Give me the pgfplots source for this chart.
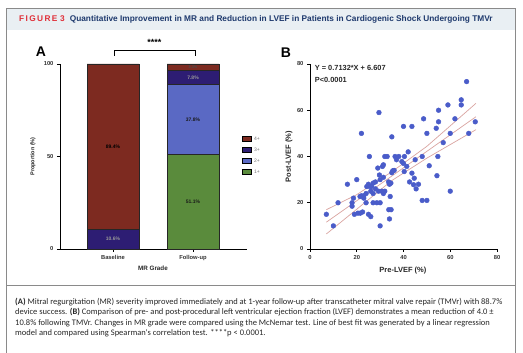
\documentclass[border=0pt]{standalone}
\usepackage{pgfplots}
\pgfplotsset{compat=1.18}
\usepackage{fontspec}
\setmainfont{Liberation Sans}
\newfontfamily\capfont{Carlito}
\definecolor{cfour}{HTML}{7D2A20}
\definecolor{cthree}{HTML}{2D1D73}
\definecolor{ctwo}{HTML}{5A69C4}
\definecolor{cone}{HTML}{5A8B3C}
\definecolor{dotblue}{HTML}{4A5CC9}
\definecolor{fitc}{HTML}{D9A3A0}
\definecolor{bandbg}{HTML}{E9EFF3}
\definecolor{figred}{HTML}{E0303A}
\definecolor{titleblue}{HTML}{1F3A6E}
\definecolor{framec}{HTML}{8A8A8A}
\pgfplotsset{
  panel/.style={
    anchor=south west, scale only axis, width=187pt, height=185pt,
    axis x line=bottom, axis y line=left,
    axis line style={-, line width=0.8pt, black},
    tick align=outside, major tick length=3pt,
    tick style={line width=0.6pt, black},
    tick label style={font=\fontsize{5.8}{6}\selectfont\bfseries, text=black!80},
    /pgf/number format/assume math mode=true,
    enlargelimits=false, clip=false,
  }
}
\begin{document}
\begin{tikzpicture}
\useasboundingbox (0,0) rectangle (523pt,353pt);
\fill[bandbg] (6pt,323pt) rectangle (515pt,345pt);
\draw[framec, line width=0.9pt] (6pt,0pt) -- (6pt,345pt) -- (515pt,345pt) -- (515pt,0pt);
\draw[framec, line width=0.9pt] (6pt,68pt) -- (515pt,68pt);
\node[anchor=west, inner sep=0, font=\fontsize{8.3}{9}\selectfont\bfseries] at (19pt,334pt)
  {\textcolor{figred}{F\,I\,G\,U\,R\,E\,\,3}\hspace{5pt}\textcolor{titleblue}{Quantitative Improvement in MR and Reduction in LVEF in Patients in Cardiogenic Shock Undergoing TMVr}};
\node[font=\fontsize{14}{15}\selectfont\bfseries, inner sep=0] at (41pt,301pt) {A};
\node[font=\fontsize{14}{15}\selectfont\bfseries, inner sep=0] at (286pt,300pt) {B};
\draw[line width=0.7pt] (114pt,297pt) -- (114pt,303pt) -- (195pt,303pt) -- (195pt,297pt);
\node[font=\fontsize{9}{9}\selectfont\bfseries, inner sep=0, anchor=north] at (154.5pt,314pt) {****};
% legend of panel A
\foreach \c/\l/\yy in {cfour/4+/214, cthree/3+/203, ctwo/2+/192, cone/1+/181} {
  \draw[fill=\c, draw=black, line width=0.5pt] (242pt,\yy pt-2.5pt) rectangle (251pt,\yy pt+2.5pt);
  \node[anchor=west, inner sep=0, font=\fontsize{5}{5}\selectfont, text=black!55] at (254pt,\yy pt) {\l};
}

\begin{axis}[panel, at={(60pt,104pt)},
  ybar stacked, bar width=52pt,
  xmin=-0.6625, xmax=1.675, ymin=0, ymax=100,
  xtick={0,1}, xticklabels={Baseline,Follow-up},
  ytick={0,50,100},
  xlabel={MR Grade}, ylabel={Proportion (\%)},
  every axis x label/.style={at={(axis description cs:0.497,-0.103)}, anchor=center, font=\fontsize{6.3}{7}\selectfont\bfseries, text=black!85},
  every axis y label/.style={at={(axis description cs:-0.144,0.5)}, rotate=90, anchor=center, font=\fontsize{5.5}{6}\selectfont\bfseries, text=black!85},
]
\addplot[fill=cone, draw=black!85, line width=0.6pt] coordinates {(0,0) (1,51.1)};
\addplot[fill=ctwo, draw=black!85, line width=0.6pt] coordinates {(0,0) (1,37.8)};
\addplot[fill=cthree, draw=black!85, line width=0.6pt] coordinates {(0,10.6) (1,7.8)};
\addplot[fill=cfour, draw=black!85, line width=0.6pt] coordinates {(0,89.4) (1,3.3)};
\end{axis}
% bar segment labels (centres of the stacked segments)
\begin{scope}[every node/.style={anchor=center, inner sep=0, font=\fontsize{5}{5}\selectfont\bfseries}]
\node[text=black] at (113pt,206.3pt) {89.4\%};
\node[text=black!40] at (113pt,113.8pt) {10.6\%};
\node[text=black!90] at (193pt,151.3pt) {51.1\%};
\node[text=black!90] at (193pt,233.5pt) {37.8\%};
\node[text=black!40] at (193pt,275.7pt) {7.8\%};
\node[text=black!70, font=\fontsize{3.8}{4}\selectfont\bfseries] at (193pt,285.9pt) {3.3\%};
\end{scope}

\begin{axis}[panel, at={(310pt,104pt)},
  xmin=0, xmax=80, ymin=0, ymax=80,
  xtick={0,20,...,80}, ytick={0,20,...,80},
  xlabel={Pre-LVEF (\%)}, ylabel={Post-LVEF (\%)},
  every axis x label/.style={at={(axis description cs:0.497,-0.119)}, anchor=center, font=\fontsize{7.5}{8}\selectfont\bfseries, text=black!85},
  every axis y label/.style={at={(axis description cs:-0.112,0.5)}, rotate=90, anchor=center, font=\fontsize{7.5}{8}\selectfont\bfseries, text=black!85},
]
\addplot[fitc, line width=0.7pt] coordinates {(7,17) (20,23.5) (35,33.4) (50,44.4) (71,63)};
\addplot[fitc, line width=0.7pt] coordinates {(7,11.6) (71,57.2)};
\addplot[fitc, line width=0.7pt] coordinates {(7,6.5) (20,17.2) (35,29.6) (50,39.3) (71,51.6)};
\addplot[only marks, mark=*, mark size=2.4pt, dotblue, mark options={draw=none, fill=dotblue}] coordinates {
(7,15) (10,10) (12,20) (16,28) (18,20) (18,18.5) (18.6,22) (20,30) (19,15) (20.5,15.5)
(22,50) (21.4,22.7) (22,23) (23,23) (21.5,15.5) (24,24) (24,20) (24.3,27) (25,28) (25,15)
(26,14) (25.4,40) (25.7,27) (26,25) (26.4,27) (27,28.5) (27,20) (28,26) (28,29) (28.6,20)
(29.3,25) (29.5,59) (30,10) (30,20) (30,30) (29,35) (29.7,32) (30.7,25) (31,35.7) (31.4,24)
(31.4,31) (32,40) (31.4,36.4) (33,40) (34,13) (33.7,17) (34.7,17) (34,28) (33.6,29) (34.3,22.7)
(34.6,28.5) (35,33) (35,48.5) (35.4,33.8) (36.4,40) (37,38.6) (38,40) (39.3,37.8) (40,53) (40,37)
(40.3,33.5) (40.4,40) (41.4,35.7) (42,42) (42.6,29) (43.6,53) (43.6,32.8) (44.3,27.8) (44.6,30.6) (45,38.6)
(45.4,26) (46.4,28) (48,40) (48,21) (48.6,56.3) (50,21) (50,50) (51,36) (54,52.2) (54.3,31.7)
(54.7,40) (55,60) (55,55) (57,46) (59,62.3) (60,25) (60,50) (62,56.3) (64.7,64.5) (64.7,62.3)
(67,72.4) (67.9,50) (70.7,55) (23,22) (27,24) (32,25) (36,34) (22.5,16)
};
\node[anchor=west, inner sep=0, font=\fontsize{7.4}{8}\selectfont\bfseries, text=black!85] at (axis cs:2,78.3) {Y = 0.7132*X + 6.607};
\node[anchor=west, inner sep=0, font=\fontsize{7.4}{8}\selectfont\bfseries, text=black!85] at (axis cs:2,73.1) {P<0.0001};
\end{axis}

\begin{scope}[every node/.style={anchor=west, inner sep=0, font=\capfont\fontsize{8.5}{9}\selectfont, text=black!85}]
\node at (15pt,51pt) {\textbf{(A)} Mitral regurgitation (MR) severity improved immediately and at 1-year follow-up after transcatheter mitral valve repair (TMVr) with 88.7\%};
\node at (15pt,40.5pt) {device success. \textbf{(B)} Comparison of pre- and post-procedural left ventricular ejection fraction (LVEF) demonstrates a mean reduction of 4.0 ±};
\node at (15pt,30pt) {10.8\% following TMVr. Changes in MR grade were compared using the McNemar test. Line of best fit was generated by a linear regression};
\node at (15pt,19.5pt) {model and compared using Spearman's correlation test. ****p < 0.0001.};
\end{scope}
\end{tikzpicture}
\end{document}
